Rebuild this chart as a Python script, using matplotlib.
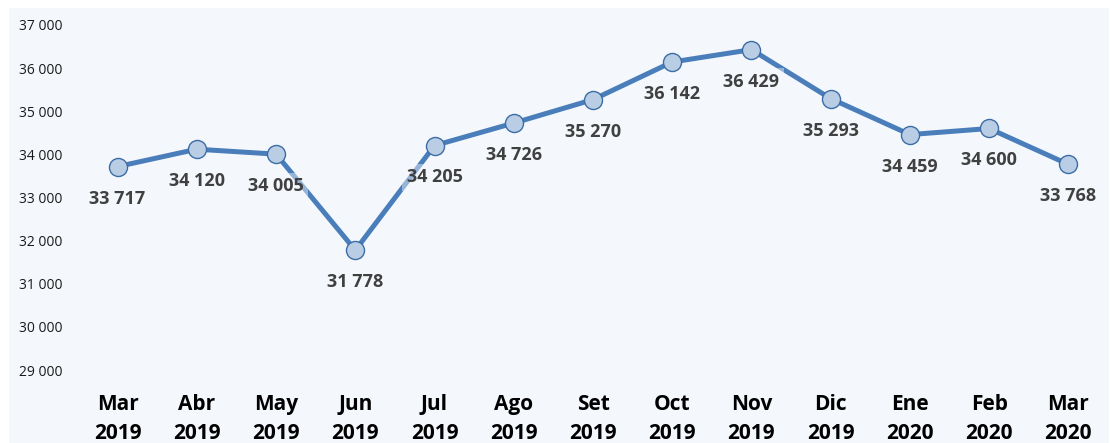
import matplotlib.pyplot as plt
from matplotlib.patches import Rectangle

plt.rcParams['font.family'] = ['Open Sans', 'DejaVu Sans']

months = ['Mar', 'Abr', 'May', 'Jun', 'Jul', 'Ago', 'Set', 'Oct', 'Nov', 'Dic', 'Ene', 'Feb', 'Mar']
years = ['2019'] * 10 + ['2020'] * 3
values = [33717, 34120, 34005, 31778, 34205, 34726, 35270, 36142, 36429, 35293, 34459, 34600, 33768]
yticks = list(range(29000, 37001, 1000))

BG = '#F4F8FC'

fig = plt.figure(figsize=(11.10, 4.43), dpi=100)
fig.patch.set_facecolor('white')
# light chart area background
fig.patches.append(Rectangle((9 / 1110, 0), 1 - 10 / 1110, 1 - 8 / 443,
                             transform=fig.transFigure, facecolor=BG,
                             edgecolor='none', zorder=-5))

ax = fig.add_axes([78 / 1110, 73 / 443, 1030 / 1110, 345 / 443])
ax.set_facecolor('none')

x = list(range(len(values)))
ax.plot(x, values, color='#4A7EBB', lw=3.6, zorder=2, solid_capstyle='round')
ax.plot(x, values, ls='none', marker='o', ms=13, mfc='#B9CDE5', mec='#3D6DA6',
        mew=1.0, zorder=4)

fmt = lambda v: f'{v:,}'.replace(',', ' ')
for xi, v in zip(x, values):
    ax.annotate(fmt(v), (xi, v), xytext=(0, -23), textcoords='offset points',
                ha='center', va='center', fontsize=13, fontweight='bold',
                color='#404040', zorder=3,
                bbox=dict(boxstyle='square,pad=0.25', fc=BG, ec='none', alpha=0.45))

ax.set_xlim(-0.5, len(values) - 0.5)
ax.set_ylim(29000, 37000)
ax.set_yticks(yticks)
ax.set_yticklabels([fmt(t) for t in yticks], fontsize=10, color='#1a1a1a')
ax.set_xticks(x)
ax.set_xticklabels([f'{m}\n{y}' for m, y in zip(months, years)], fontsize=15,
                   fontweight='bold', color='black', linespacing=1.5)
ax.tick_params(length=0)
ax.tick_params(axis='x', pad=17)
ax.tick_params(axis='y', pad=11.5)
for s in ax.spines.values():
    s.set_visible(False)

fig.savefig('out.png', dpi=100)
